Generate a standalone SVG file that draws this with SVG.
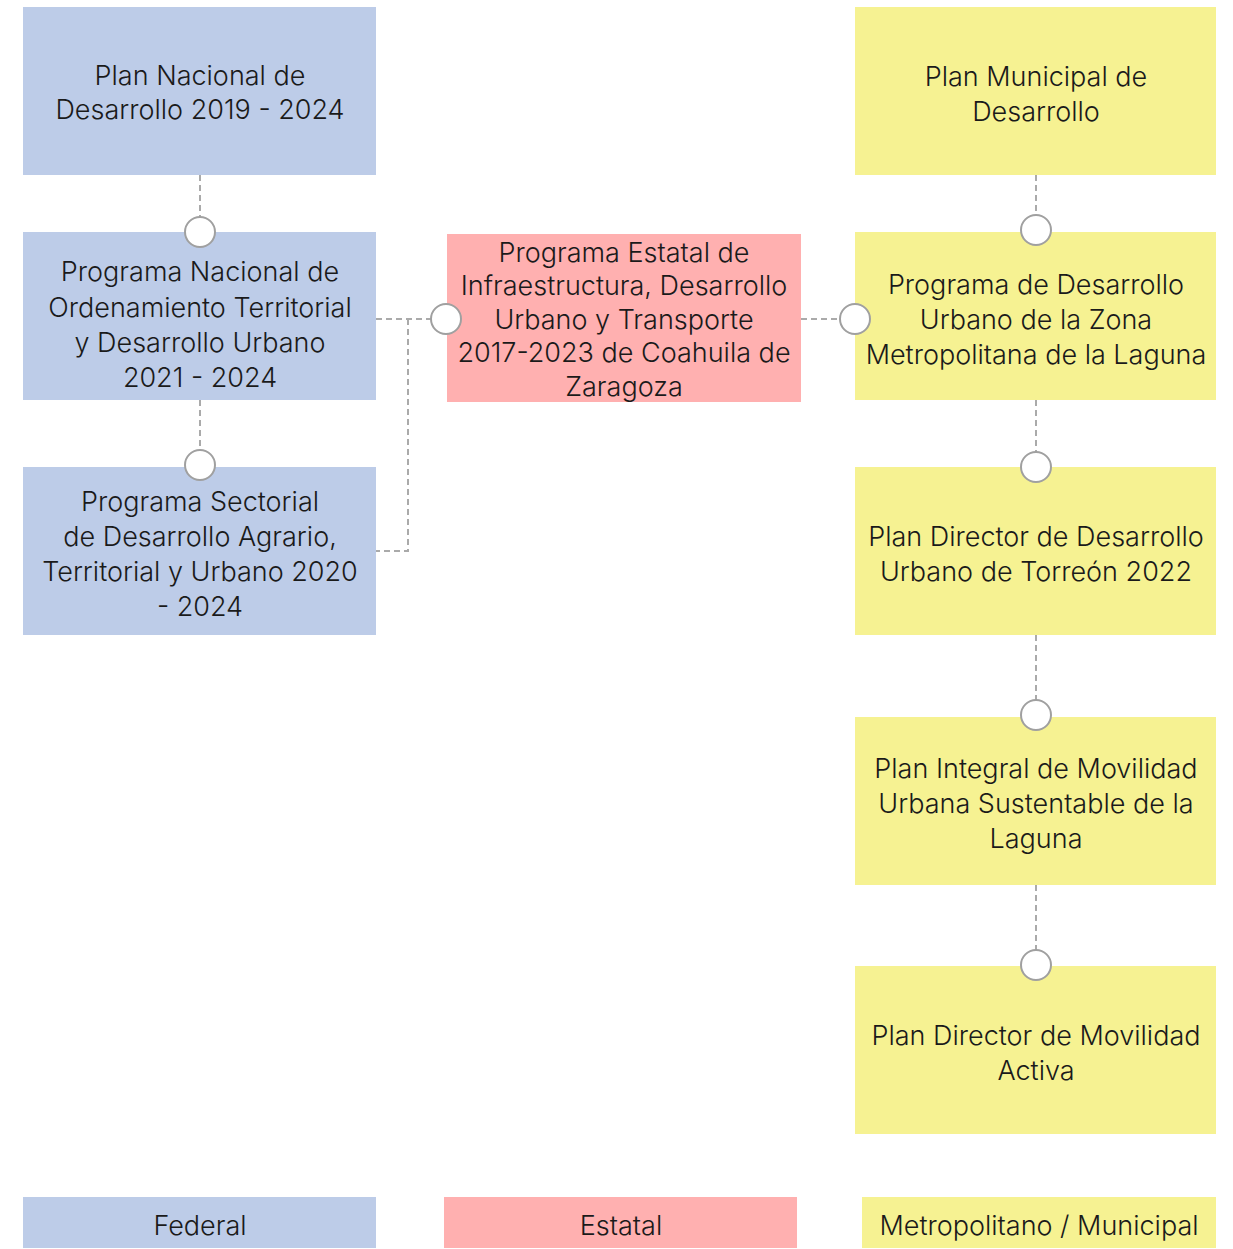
<svg xmlns="http://www.w3.org/2000/svg" width="1233" height="1249" viewBox="0 0 1233 1249">
<style>
.fed{fill:#bdcce8}
.est{fill:#ffb0b0}
.mun{fill:#f6f292}
text{font-family:Inter,Roboto,"Liberation Sans",sans-serif;font-weight:300;font-size:27px;fill:#1a1a1a;text-anchor:middle}
.c{fill:none;stroke:#aaaaaa;stroke-width:2;stroke-dasharray:6,4}
.dot{fill:#ffffff;stroke:#a0a0a0;stroke-width:2}
</style>
<rect width="1233" height="1249" fill="#ffffff"/>
<g id="connectors">
<path class="c" d="M200,175V217"/>
<path class="c" d="M200,400V450"/>
<path class="c" d="M376,319H431"/>
<path class="c" d="M408,319V551H376"/>
<path class="c" d="M801,319H840"/>
<path class="c" d="M1036,175V215"/>
<path class="c" d="M1036,400V452"/>
<path class="c" d="M1036,635V700"/>
<path class="c" d="M1036,885V950"/>
</g>
<g id="n1"><rect class="fed" x="23" y="7" width="353" height="168"/>
<text x="200" y="85">Plan Nacional de</text><text x="200" y="119">Desarrollo 2019 - 2024</text></g>
<g id="n2"><rect class="fed" x="23" y="232" width="353" height="168"/>
<text x="200" y="281">Programa Nacional de</text><text x="200" y="317">Ordenamiento Territorial</text><text x="200" y="352">y Desarrollo Urbano</text><text x="200" y="387">2021 - 2024</text></g>
<g id="n3"><rect class="fed" x="23" y="467" width="353" height="168"/>
<text x="200" y="511">Programa Sectorial</text><text x="200" y="546">de Desarrollo Agrario,</text><text x="200" y="581">Territorial y Urbano 2020</text><text x="200" y="616">- 2024</text></g>
<g id="n4"><rect class="est" x="447" y="234" width="354" height="168"/>
<text x="624" y="262">Programa Estatal de</text><text x="624" y="295">Infraestructura, Desarrollo</text><text x="624" y="329">Urbano y Transporte</text><text x="624" y="362">2017-2023 de Coahuila de</text><text x="624" y="396">Zaragoza</text></g>
<g id="n5"><rect class="mun" x="855" y="7" width="361" height="168"/>
<text x="1036" y="86">Plan Municipal de</text><text x="1036" y="121">Desarrollo</text></g>
<g id="n6"><rect class="mun" x="855" y="232" width="361" height="168"/>
<text x="1036" y="294">Programa de Desarrollo</text><text x="1036" y="329">Urbano de la Zona</text><text x="1036" y="364">Metropolitana de la Laguna</text></g>
<g id="n7"><rect class="mun" x="855" y="467" width="361" height="168"/>
<text x="1036" y="546">Plan Director de Desarrollo</text><text x="1036" y="581">Urbano de Torreón 2022</text></g>
<g id="n8"><rect class="mun" x="855" y="717" width="361" height="168"/>
<text x="1036" y="778">Plan Integral de Movilidad</text><text x="1036" y="813">Urbana Sustentable de la</text><text x="1036" y="848">Laguna</text></g>
<g id="n9"><rect class="mun" x="855" y="966" width="361" height="168"/>
<text x="1036" y="1045">Plan Director de Movilidad</text><text x="1036" y="1080">Activa</text></g>
<g id="dots">
<circle class="dot" cx="200" cy="232" r="15"/>
<circle class="dot" cx="200" cy="465" r="15"/>
<circle class="dot" cx="446" cy="319" r="15"/>
<circle class="dot" cx="855" cy="319" r="15"/>
<circle class="dot" cx="1036" cy="230" r="15"/>
<circle class="dot" cx="1036" cy="467" r="15"/>
<circle class="dot" cx="1036" cy="715" r="15"/>
<circle class="dot" cx="1036" cy="965" r="15"/>
</g>
<g id="legend-federal"><rect class="fed" x="23" y="1197" width="353" height="51"/><text x="200" y="1235">Federal</text></g>
<g id="legend-estatal"><rect class="est" x="444" y="1197" width="353" height="51"/><text x="621" y="1235">Estatal</text></g>
<g id="legend-municipal"><rect class="mun" x="862" y="1197" width="354" height="51"/><text x="1039" y="1235">Metropolitano / Municipal</text></g>
</svg>
